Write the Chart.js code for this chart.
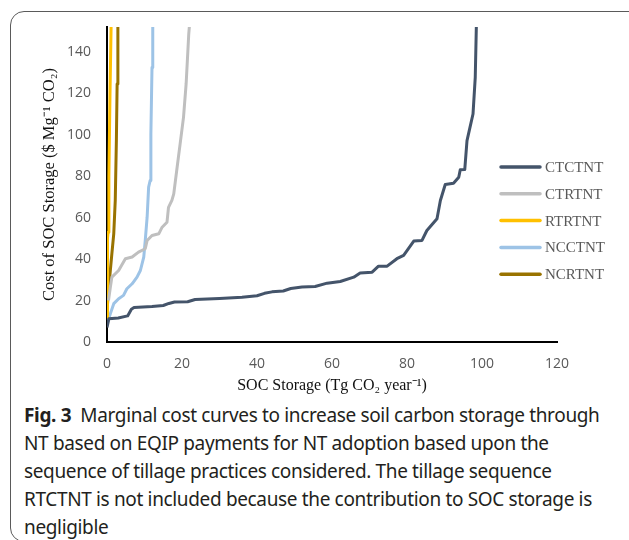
<!DOCTYPE html>
<html>
<head>
<meta charset="utf-8">
<script src="https://cdn.jsdelivr.net/npm/chart.js@4.4.0/dist/chart.umd.min.js"></script>
<style>
  html, body { margin: 0; padding: 0; background: #fff; overflow: hidden; }
  #wrap { position: relative; width: 629px; height: 540px; overflow: hidden; }
  #frame {
    position: absolute; left: 10px; top: 11px; width: 660px; height: 531px;
    border: 1px solid #5a5a5a; border-radius: 14px; box-sizing: border-box;
  }
  #cv { position: absolute; left: 0; top: 0; }
  #caption {
    position: absolute; left: 24px; top: 401px;
    font-family: "Noto Sans", sans-serif; font-size: 19px; color: #231f20;
    line-height: 28px; letter-spacing: -0.35px; white-space: nowrap;
  }
  #caption b { font-weight: bold; }
</style>
</head>
<body>
<div id="wrap">
  <div id="frame"></div>
  <canvas id="cv" width="629" height="400"></canvas>
  <div id="caption">
    <div><b>Fig. 3</b>&nbsp; Marginal cost curves to increase soil carbon storage through</div>
    <div>NT based on EQIP payments for NT adoption based upon the</div>
    <div>sequence of tillage practices considered. The tillage sequence</div>
    <div>RTCTNT is not included because the contribution to SOC storage is</div>
    <div>negligible</div>
  </div>
</div>
<script>
// series names and colours (legend order)
const seriesNames = ['CTCTNT', 'CTRTNT', 'RTRTNT', 'NCCTNT', 'NCRTNT'];
const seriesColors = ['#44546A', '#BFBFBF', '#FFC000', '#9DC3E6', '#997300'];

// SOC storage (x) and cost (y)
const ctctntX = [0, 0.5, 3, 5.5, 6.5, 7.2, 12, 15, 16.5, 18, 21.5, 23.5, 30, 36, 40, 42, 44, 47, 49, 52, 55.5, 58.7, 62.2, 65.8, 67.5, 70.7, 72.4, 74.7, 77.3, 79.1, 81.8, 84, 85.3, 88, 88.9, 90.2, 92.4, 93.8, 94.2, 95.4, 96, 96.9, 97.6, 98.2, 98.5];
const ctctntY = [7, 11.2, 11.6, 12.6, 15.8, 16.6, 17.1, 17.6, 18.6, 19.3, 19.4, 20.5, 21, 21.6, 22.3, 23.5, 24.2, 24.6, 25.8, 26.5, 26.8, 28.4, 29.2, 31.3, 33.3, 33.7, 36.6, 36.6, 40.2, 41.8, 48.7, 49, 53.8, 59.5, 68.3, 76, 76.6, 79.5, 83.1, 83.2, 97.2, 104.4, 110, 127.7, 153];

const ctrtntX = [0.4, 0.9, 1.3, 3.1, 4.9, 6.7, 8.4, 10.2, 10.7, 12, 13.8, 14.7, 16, 16.4, 17.3, 17.8, 18.7, 19.5, 20.4, 21.1, 21.8, 22];
const ctrtntY = [20.1, 26.5, 31.3, 34.5, 40.2, 41, 43.4, 45, 49, 51.4, 52.2, 55.4, 57.8, 65, 68.3, 71.5, 84.3, 95.6, 108.4, 124.5, 148.6, 153];

const rtrtntX = [0, 0.05, 0.2, 0.3, 0.5, 0.8, 1.1];
const rtrtntY = [12, 35, 50, 53, 80, 120, 153];

const ncctntX = [0.2, 0.9, 1.8, 3.1, 4.4, 5.3, 6.7, 8, 8.9, 9.8, 10.2, 10.7, 11.1, 11.5, 11.7, 12, 12.2];
const ncctntY = [9.6, 13.7, 18.5, 20.9, 22.5, 25.7, 28.1, 31.3, 34.5, 41, 49, 60.2, 74.7, 77.9, 100.4, 132.5, 153];

const ncrtntX = [0, 0.4, 1.3, 1.8, 2.2, 2.5, 2.7, 2.9];
const ncrtntY = [15, 24.9, 42.6, 52.2, 68.3, 97.2, 124.5, 153];

// axis ticks
const xTicks = [0, 20, 40, 60, 80, 100, 120];
const yTicks = [0, 20, 40, 60, 80, 100, 120, 140];

const seriesX = [ctctntX, ctrtntX, rtrtntX, ncctntX, ncrtntX];
const seriesY = [ctctntY, ctrtntY, rtrtntY, ncctntY, ncrtntY];

const datasets = seriesNames.map((name, i) => ({
  label: name,
  data: seriesX[i].map((x, j) => ({ x: x, y: seriesY[i][j] })),
  borderColor: seriesColors[i],
  backgroundColor: seriesColors[i],
  borderWidth: 3,
  borderJoinStyle: 'round',
  pointRadius: 0,
  tension: 0,
  fill: false
}));

// legend drawn inside the plot, like the original
const legendPlugin = {
  id: 'sideLegend',
  afterDraw(chart) {
    const ctx = chart.ctx;
    ctx.save();
    ctx.font = '15px "Liberation Serif", serif';
    ctx.textBaseline = 'middle';
    ctx.lineCap = 'round';
    chart.data.datasets.forEach((ds, i) => {
      const y = 167 + i * 26.8;
      ctx.strokeStyle = ds.borderColor;
      ctx.lineWidth = 3.5;
      ctx.beginPath();
      ctx.moveTo(501, y);
      ctx.lineTo(540, y);
      ctx.stroke();
      ctx.fillStyle = '#595959';
      ctx.fillText(ds.label, 545, y + 1);
    });
    ctx.restore();
  }
};

new Chart(document.getElementById('cv'), {
  type: 'line',
  data: { datasets: datasets },
  plugins: [legendPlugin],
  options: {
    responsive: false,
    animation: false,
    devicePixelRatio: 1,
    layout: { padding: { top: 27, right: 72, left: 0, bottom: 0 } },
    plugins: { legend: { display: false }, tooltip: { enabled: false } },
    scales: {
      x: {
        type: 'linear',
        min: 0, max: 120,
        afterBuildTicks: s => { s.ticks = xTicks.map(v => ({ value: v })); },
        afterFit: s => { s.height = 58; },
        grid: { display: false, drawTicks: false },
        border: { display: true, color: '#000', width: 2 },
        ticks: { color: '#595959', font: { family: '"Open Sans", sans-serif', size: 14 }, padding: 14 },
        title: {
          display: true,
          text: 'SOC Storage (Tg CO\u2082 year\u207B\u00B9)',
          color: '#111',
          font: { family: '"Liberation Serif", serif', size: 16 },
          padding: { top: 0, bottom: 5 }
        }
      },
      y: {
        type: 'linear',
        min: 0, max: 152,
        afterBuildTicks: s => { s.ticks = yTicks.map(v => ({ value: v })); },
        afterFit: s => { s.width = 107; },
        grid: { display: false, drawTicks: false },
        border: { display: true, color: '#000', width: 2 },
        ticks: { color: '#595959', font: { family: '"Open Sans", sans-serif', size: 14 }, padding: 16 },
        title: {
          display: true,
          text: 'Cost of SOC Storage ($ Mg\u207B\u00B9 CO\u2082)',
          color: '#111',
          font: { family: '"Liberation Serif", serif', size: 16.5 },
          padding: { top: 40, bottom: 0 }
        }
      }
    }
  }
});
</script>
</body>
</html>
